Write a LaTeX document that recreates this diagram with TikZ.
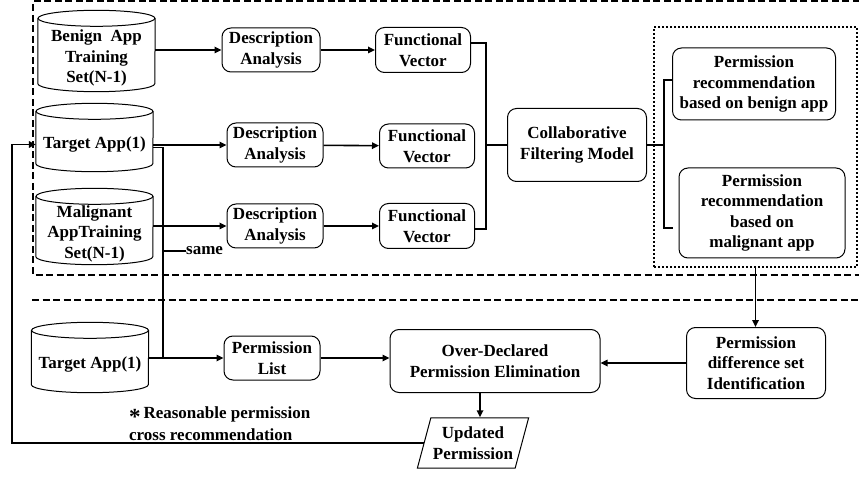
\documentclass[tikz,border=0pt]{standalone}
\usepackage{fontspec}
\setmainfont{Liberation Serif}
\usetikzlibrary{arrows.meta, shapes.geometric, positioning}
\tikzstyle{procBox} = [draw, rectangle, rounded corners=9pt, align=center,
   line width=1pt, inner sep=1pt]
\tikzstyle{appBody} = [rectangle, align=center, minimum width=117pt, inner sep=1pt]
\tikzstyle{flowArrow} = [line width=1.6pt, -{Triangle[length=7pt,width=6.5pt]}]
\tikzstyle{plainLine} = [line width=1.6pt]
\tikzstyle{frameLine} = [line width=2pt, dash pattern=on 7pt off 3.5pt]

\begin{document}
\begin{tikzpicture}[
  x=1pt, y=-1pt,
  font=\fontsize{17}{20.5}\selectfont\bfseries,
  ]
  \useasboundingbox (0,0) rectangle (859,478);
  % dashed frames
  \draw[frameLine] (870,1.5) -| (33,275) -- (870,275);
  \draw[frameLine] (32,300) -- (870,300);
  % apps (text nodes, cylinders drawn round them below)
  \node[appBody, minimum height=65pt] (benign) at (96.5,58) {Benign~~App\\Training\\Set(N-1)};
  \node[appBody, minimum height=52pt] (tgtA) at (94.5,144.5) {Target App(1)};
  \node[appBody, minimum height=60pt] (malig) at (94.5,233.5) {Malignant\\AppTraining\\Set(N-1)};
  \node[appBody, minimum height=54pt] (tgtB) at (90,364.5) {Target App(1)};
  \foreach \app in {benign, tgtA, malig, tgtB} {
    \draw[line width=1pt] ([yshift=7pt]\app.north west) -- ([yshift=7pt]\app.south west)
      arc[start angle=180, end angle=360, x radius=58.5pt, y radius=8pt]
      -- ([yshift=7pt]\app.north east);
    \draw[line width=1pt] ([yshift=7pt]\app.north) ellipse [x radius=58.5pt, y radius=8pt];
  }
  % description analysis and functional vectors
  \node[procBox, minimum width=98pt, minimum height=44pt] (descA) at (271,50) {Description\\Analysis};
  \node[procBox, minimum width=96pt, minimum height=44pt] (descB) at (275,145) {Description\\Analysis};
  \node[procBox, minimum width=96pt, minimum height=44pt] (descC) at (275,226) {Description\\Analysis};
  \node[procBox, minimum width=95pt, minimum height=45pt] (vecA) at (423,50) {Functional\\Vector};
  \node[procBox, minimum width=95pt, minimum height=44pt] (vecB) at (427,146) {Functional\\Vector};
  \node[procBox, minimum width=95pt, minimum height=45pt] (vecC) at (427,226) {Functional\\Vector};
  \node[procBox, minimum width=139pt, minimum height=73pt] (cfm) at (577,145) {Collaborative\\Filtering Model};
  % recommendations
  \node[draw, line width=2pt, dash pattern=on 2pt off 2pt, minimum width=203pt, minimum height=240pt] (recBox) at (755.5,147) {};
  \node[procBox, minimum width=163pt, minimum height=72pt] (recBenign) at (754,84) {Permission\\recommendation\\based on benign app};
  \node[procBox, minimum width=166pt, minimum height=90pt] (recMalig) at (762,213) {Permission\\recommendation\\based on\\malignant app};
  % lower part
  \node[procBox, minimum width=96pt, minimum height=44pt] (permList) at (272,358) {Permission\\List};
  \node[procBox, minimum width=210pt, minimum height=63pt] (overDecl) at (495,361) {Over-Declared\\Permission Elimination};
  \node[procBox, minimum width=139pt, minimum height=71pt] (permDiff) at (756,363) {Permission\\difference set\\Identification};
  \node[draw, trapezium, trapezium left angle=75, trapezium right angle=105, line width=1pt,
        align=center, inner xsep=2pt, inner ysep=9pt] (updPerm) at (473,443) {Updated\\Permission};
  \node[anchor=west, inner sep=0pt] (same) at (186,251) {same};
  \node[align=left, anchor=north west, inner sep=0pt, font=\fontsize{17}{22}\selectfont\bfseries] (note) at (129,407) {\smash{\raisebox{-6pt}{\fontsize{23}{23}\selectfont *}}\,Reasonable permission\\cross recommendation};
  \coordinate (sameJoin) at (163,358);

  \draw[flowArrow] (benign.east |- descA) -- (descA);
  \draw[flowArrow] (tgtA.east |- descB) -- (descB);
  \draw[flowArrow] (malig.east |- descC) -- (descC);
  \draw[flowArrow] (descA) -- (vecA);
  \draw[flowArrow] (descB) -- (vecB);
  \draw[flowArrow] (descC) -- (vecC);
  \coordinate[left=21pt of cfm.west] (vecJoin);
  \draw[plainLine] ([yshift=7pt]vecA.east) -| (vecJoin) |- ([yshift=-3pt]vecC.east);
  \draw[plainLine] (vecJoin) -- (cfm.west);
  \coordinate[right=17pt of cfm.east] (cfmJoin);
  \draw[plainLine] ([yshift=4pt]recBenign.west) -| (cfmJoin) |- ([xshift=-6pt,yshift=-15pt]recMalig.west);
  \draw[plainLine] (cfm.east) -- (cfmJoin);
  \draw[plainLine] ([yshift=-3pt]tgtA.east) -| (sameJoin);
  \draw[plainLine] (same.west) -- ++(-23,0);
  \draw[flowArrow] (tgtB.east |- permList) -- (permList);
  \draw[flowArrow] (permList) -- (permList -| overDecl.west);
  \draw[flowArrow] (recBox.south) -- (recBox.south |- permDiff.north);
  \draw[flowArrow] (permDiff.west) -- (permDiff.west -| overDecl.east);
  \draw[flowArrow] ([xshift=-15pt]overDecl.south) -- ([xshift=-15pt]overDecl.south |- updPerm.north);
  \draw[flowArrow] (updPerm.west) -| ([xshift=-24pt]tgtA.west) -- (tgtA.west);
\end{tikzpicture}
\end{document}
